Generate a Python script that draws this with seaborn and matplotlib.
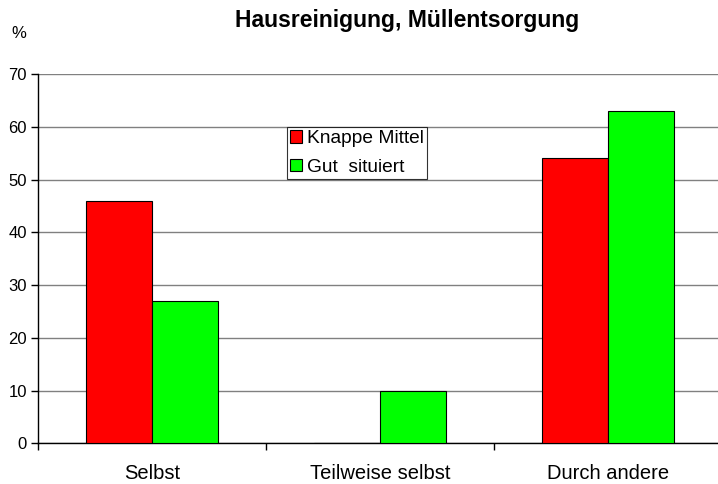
import matplotlib
matplotlib.use("Agg")
import matplotlib.pyplot as plt
import seaborn as sns
import pandas as pd

categories = ["Selbst", "Teilweise selbst", "Durch andere"]
series_names = ["Knappe Mittel", "Gut  situiert"]
knappe = [46, 0, 54]
gut = [27, 10, 63]
colors = ["#FF0000", "#00FF00"]

df = pd.DataFrame({
    "Kategorie": categories * 2,
    "Gruppe": [series_names[0]] * 3 + [series_names[1]] * 3,
    "Wert": knappe + gut,
})

sns.set_style("white")
plt.rcParams["font.family"] = ["Liberation Sans", "DejaVu Sans"]
plt.rcParams["text.color"] = "black"
plt.rcParams["xtick.color"] = "black"
plt.rcParams["ytick.color"] = "black"
plt.rcParams["axes.labelcolor"] = "black"

fig = plt.figure(figsize=(7.18, 4.84), dpi=100)
ax = fig.add_axes([38 / 718, 1 - 443.3 / 484, 684 / 718, (443.3 - 74) / 484])

sns.barplot(data=df, x="Kategorie", y="Wert", hue="Gruppe", palette=colors,
            saturation=1, width=0.575, edgecolor="black", linewidth=0.8, ax=ax,
            zorder=3, legend=True)

ax.set_ylim(0, 70)
ax.set_xlim(-0.5, 2.5)
ax.set_yticks(range(0, 71, 10))
ax.yaxis.grid(True, color="#808080", linewidth=1.0, zorder=0)
ax.set_axisbelow(True)
ax.set_xlabel("")
ax.set_ylabel("")
ax.set_xticks([0, 1, 2])
ax.set_xticklabels(categories, fontsize=14.5)
ax.tick_params(axis="x", length=0, pad=15)
ax.set_xticks([-0.5, 0.5, 1.5, 2.5], minor=True)
ax.tick_params(axis="x", which="minor", length=5, width=1, color="black", direction="out", bottom=True)
ax.tick_params(axis="y", length=5, width=1, color="black", direction="out", labelsize=12, left=True, pad=3)

for s in ["top", "right"]:
    ax.spines[s].set_visible(False)
for s in ["left", "bottom"]:
    ax.spines[s].set_color("black")
    ax.spines[s].set_linewidth(1.0)

leg = ax.legend(loc="upper left", bbox_to_anchor=((287 - 38) / 684, (443.3 - 127) / 369.3),
                frameon=True, fancybox=False, shadow=False, fontsize=13.8,
                handlelength=0.6, handleheight=0.6, handletextpad=0.25,
                borderpad=0.17, labelspacing=0.6, borderaxespad=0)
leg.get_frame().set_edgecolor("black")
leg.get_frame().set_linewidth(0.8)

fig.text(407 / 718, 1 - 20 / 484, "Hausreinigung, Müllentsorgung", ha="center", va="center",
         fontsize=16.5, fontweight="bold")
fig.text(19 / 718, 1 - 34 / 484, "%", ha="center", va="center", fontsize=12)

fig.savefig("out.png", dpi=100)
